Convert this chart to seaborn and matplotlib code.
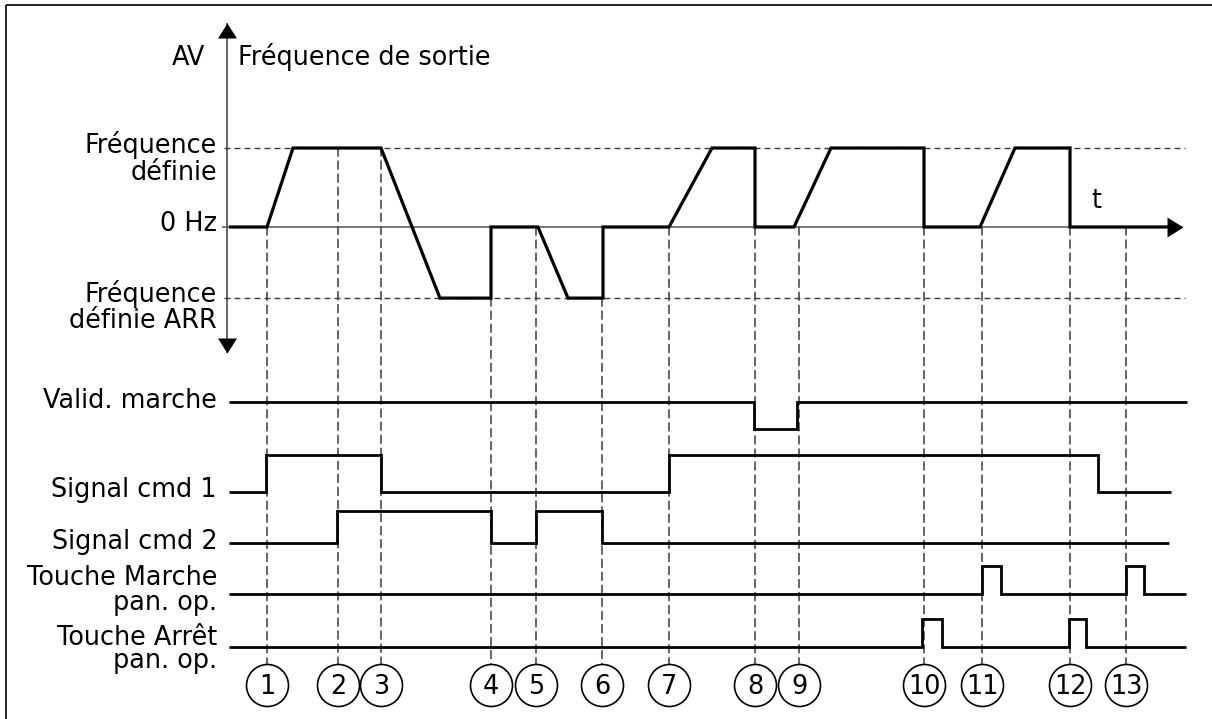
import numpy as np
import matplotlib
matplotlib.use("Agg")
import matplotlib.pyplot as plt
from matplotlib.patches import ConnectionPatch
from matplotlib.lines import Line2D
from matplotlib.path import Path
import seaborn as sns

# ---------------------------------------------------------------- data
# time instants of the numbered events
event_labels = ["1", "2", "3", "4", "5", "6", "7", "8", "9", "10", "11", "12", "13"]
event_t = [1.9, 5.45, 7.6, 13.1, 15.35, 18.65, 22.0, 26.3, 28.5, 34.75, 37.65, 42.05, 44.85]
# output frequency level where each event marker starts (1 = set freq, -0.9 = reverse set freq)
event_level = [0, 1, 1, -0.9, 0, -0.9, 0, 0, 0, 0, 0, 0, 0]

# output frequency trace
freq_t = [0, 1.9, 3.2, 7.6, 10.55, 13.1, 13.1, 15.45, 16.95, 18.7, 18.7, 22.0,
          24.15, 26.3, 26.3, 28.25, 30.1, 34.75, 34.75, 37.55, 39.3, 42.05, 42.05, 47.05]
freq_v = [0, 0, 1, 1, -0.9, -0.9, 0, 0, -0.9, -0.9, 0, 0,
          1, 1, 0, 0, 1, 1, 0, 0, 1, 1, 0, 0]
freq_set = 1.0
freq_set_rev = -0.9

# digital signals: initial state, switching instants, end of trace
signal_names = ["Valid. marche", "Signal cmd 1", "Signal cmd 2",
                "Touche Marche\npan. op.", "Touche Arrêt\npan. op."]
valid_init, valid_edges, valid_end = 1, [26.25, 28.4], 47.9
cmd1_init, cmd1_edges, cmd1_end = 0, [1.85, 7.6, 22.0, 43.45], 47.1
cmd2_init, cmd2_edges, cmd2_end = 0, [5.4, 13.1, 15.35, 18.65], 47.0
start_init, start_edges, start_end = 0, [37.65, 38.6, 44.85, 45.75], 47.85
stop_init, stop_edges, stop_end = 0, [34.65, 35.65, 42.0, 42.85], 47.85

# ---------------------------------------------------------------- layout
W, H = 1212, 719
PX_PER_T = 20.0      # horizontal pixels per time unit
ORIGIN_PX = 229.0    # pixel column of t = 0
ZERO_PX = 227.0      # pixel row of 0 Hz
FREQ_PX = 79.0       # pixels per unit of frequency

# lanes of the digital signals: (row of low state, row of high state,
# row of the label's last baseline, label line spacing)
lanes = [
    (429, 402, 408, 1.0),
    (492, 455, 497, 1.0),
    (543, 511, 549, 1.0),
    (594, 566, 610, 0.97),
    (647, 619, 668, 0.86),
]
CIRCLE_ROW = 685
FS = 18.4

sns.set_theme(style="white")
plt.rcParams["font.family"] = ["DejaVu Sans"]
plt.rcParams["text.color"] = "black"
plt.rcParams["lines.scale_dashes"] = False
plt.rcParams["lines.solid_joinstyle"] = "miter"
plt.rcParams["lines.solid_capstyle"] = "butt"

fig = plt.figure(figsize=(W / 100, H / 100), dpi=100)
fig.patch.set_facecolor("white")

t_lo = -ORIGIN_PX / PX_PER_T
t_hi = (W - ORIGIN_PX) / PX_PER_T

# layout axes: x = time, y = pixel row from the top
ax = fig.add_axes([0, 0, 1, 1])
ax.set_xlim(t_lo, t_hi)
ax.set_ylim(H, 0)
ax.axis("off")

# frequency axes: x = time, y = frequency (unit = set frequency)
axf = fig.add_axes([0, 0, 1, 1], sharex=ax)
axf.set_ylim((ZERO_PX - H) / FREQ_PX, ZERO_PX / FREQ_PX)
axf.axis("off")
axf.patch.set_alpha(0)

INK = "black"
GRID = "#3a3a3a"


def px_t(px):
    """Time coordinate of a pixel column."""
    return (px - ORIGIN_PX) / PX_PER_T


def arrow_marker(dx, dy, length, half):
    """Filled triangle whose tip sits on the anchor point, pointing (dx, dy)."""
    bx, by = -dx * length, -dy * length
    px_, py_ = -dy * half, dx * half
    return Path([(0, 0), (bx + px_, by + py_), (bx - px_, by - py_), (0, 0)],
                [Path.MOVETO, Path.LINETO, Path.LINETO, Path.CLOSEPOLY])


# frame (top and left edges)
ax.add_line(Line2D([6 / W, 1], [1 - 5 / H, 1 - 5 / H], transform=ax.transAxes,
                   color="#222222", lw=1.4))
ax.add_line(Line2D([6 / W, 6 / W], [0, 1 - 5 / H], transform=ax.transAxes,
                   color="#222222", lw=1.4))

# ---------------------------------------------------------------- frequency part
t_axis = px_t(227)
# vertical frequency axis with arrows on both ends
ax.plot([t_axis, t_axis], [23, 353], color=GRID, lw=1.1, zorder=3)
ax.plot([t_axis], [23], marker=arrow_marker(0, 1, 15, 9.5), markersize=21.6,
        color=INK, markeredgewidth=0, zorder=4)
ax.plot([t_axis], [353], marker=arrow_marker(0, -1, 15, 9.5), markersize=21.6,
        color=INK, markeredgewidth=0, zorder=4)

# 0 Hz time axis with arrow
t_tip = px_t(1183)
axf.plot([px_t(222), t_tip], [0, 0], color="#555555", lw=1.1, zorder=2)
axf.plot([t_tip], [0], marker=arrow_marker(1, 0, 16, 10), markersize=23.0,
         color=INK, markeredgewidth=0, zorder=4)

# reference levels
for lvl in (freq_set, freq_set_rev):
    axf.plot([px_t(224), px_t(1185)], [lvl, lvl], color=GRID, lw=1.0,
             ls=(0, (4.3, 2.9)), zorder=1)

# output frequency trace
sns.lineplot(x=freq_t, y=freq_v, ax=axf, estimator=None, sort=False,
             color=INK, lw=2.3, zorder=5)
axf.plot([freq_t[-1], t_tip - 0.6], [0, 0], color=INK, lw=2.3, zorder=5)

# frequency labels
tx_lab = px_t(217)
axf.annotate("Fréquence", (tx_lab, freq_set), xytext=(0, -5 * 0.72),
             textcoords="offset points", ha="right", va="baseline", fontsize=FS)
axf.annotate("définie", (tx_lab, freq_set), xytext=(0, -32 * 0.72),
             textcoords="offset points", ha="right", va="baseline", fontsize=FS)
axf.annotate("0 Hz", (tx_lab, 0), xytext=(0, -4 * 0.72),
             textcoords="offset points", ha="right", va="baseline", fontsize=FS)
axf.annotate("Fréquence", (tx_lab, freq_set_rev), xytext=(0, -4 * 0.72),
             textcoords="offset points", ha="right", va="baseline", fontsize=FS)
axf.annotate("définie ARR", (tx_lab, freq_set_rev), xytext=(0, -30 * 0.72),
             textcoords="offset points", ha="right", va="baseline", fontsize=FS)

ax.text(px_t(205), 65, "AV", ha="right", va="baseline", fontsize=FS)
ax.text(px_t(238), 65, "Fréquence de sortie", ha="left", va="baseline", fontsize=FS)
ax.text(px_t(1091), 208, "t", ha="left", va="baseline", fontsize=FS)

# ---------------------------------------------------------------- digital signals


def step_trace(init, edges, end):
    xs, ys, s = [0.0], [init], init
    for e in edges:
        xs += [e, e]
        ys += [s, 1 - s]
        s = 1 - s
    xs.append(end)
    ys.append(s)
    return np.array(xs), np.array(ys)


signals = [
    (valid_init, valid_edges, valid_end),
    (cmd1_init, cmd1_edges, cmd1_end),
    (cmd2_init, cmd2_edges, cmd2_end),
    (start_init, start_edges, start_end),
    (stop_init, stop_edges, stop_end),
]
for name, (init, edges, end), (low, high, base, lsp) in zip(signal_names, signals, lanes):
    xs, st = step_trace(init, edges, end)
    sns.lineplot(x=xs, y=low - st * (low - high), ax=ax, estimator=None,
                 sort=False, color=INK, lw=2.0, zorder=5)
    ax.text(tx_lab, base, name, ha="right", va="baseline", ma="right",
            linespacing=lsp, fontsize=FS)

# ---------------------------------------------------------------- events
for te, lvl in zip(event_t, event_level):
    con = ConnectionPatch(xyA=(te, lvl), coordsA=axf.transData,
                          xyB=(te, CIRCLE_ROW), coordsB=ax.transData,
                          color=GRID, lw=1.1, ls=(0, (5.8, 3.6)), zorder=1)
    ax.add_artist(con)

ax.scatter(event_t, [CIRCLE_ROW] * len(event_t), s=(42 * 0.72) ** 2,
           facecolor="white", edgecolor=INK, linewidth=1.2, zorder=6)
for te, lab in zip(event_t, event_labels):
    ax.text(te, CIRCLE_ROW + 9, lab, ha="center", va="baseline",
            fontsize=FS, zorder=7)

fig.savefig("out.png", dpi=100)
